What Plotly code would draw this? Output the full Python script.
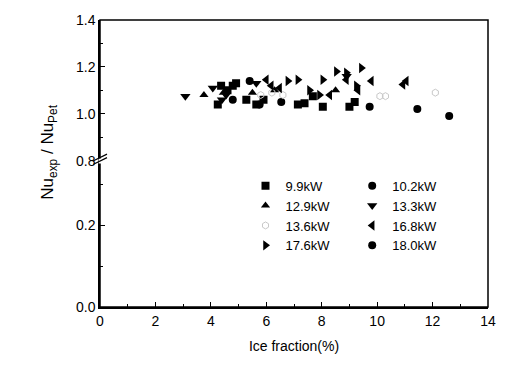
import plotly.graph_objects as go

# ---- data (ice fraction %, Nu_exp/Nu_Pet) ----
x_99 = [4.25, 4.37, 4.6, 4.79, 4.91, 5.28, 5.64, 5.9, 7.14, 7.38, 7.68, 8.04, 9.0, 9.19]
y_99 = [1.04, 1.12, 1.10, 1.12, 1.13, 1.06, 1.04, 1.06, 1.04, 1.045, 1.075, 1.03, 1.03, 1.05]
x_102 = [4.79, 5.4, 5.76, 6.54, 9.73]
y_102 = [1.06, 1.14, 1.04, 1.05, 1.03]
x_129 = [3.75, 4.45, 5.5, 6.3, 8.5]
y_129 = [1.08, 1.09, 1.09, 1.10, 1.10]
x_133 = [3.08, 4.07, 4.4, 4.55, 5.64, 8.9]
y_133 = [1.075, 1.11, 1.06, 1.08, 1.13, 1.16]
x_136 = [5.8, 6.2, 6.6, 10.1, 10.3, 12.1]
y_136 = [1.08, 1.09, 1.08, 1.075, 1.075, 1.09]
x_168 = [6.0, 6.18, 6.48, 8.29, 8.89, 9.31, 9.79, 10.93, 11.05]
y_168 = [1.145, 1.12, 1.11, 1.08, 1.145, 1.10, 1.14, 1.125, 1.14]
x_176 = [6.78, 7.14, 7.56, 7.92, 8.04, 8.53, 8.89, 9.25, 9.43]
y_176 = [1.14, 1.145, 1.10, 1.08, 1.145, 1.18, 1.175, 1.12, 1.195]
x_180 = [11.45, 12.6]
y_180 = [1.02, 0.99]

x_ticks = [0, 2, 4, 6, 8, 10, 12, 14]
y_low_ticks = [0.0, 0.2]
y_up_ticks = [0.8, 1.0, 1.2, 1.4]

FONT = "Liberation Sans, Arial, sans-serif"

series = [
    ("9.9kW", x_99, y_99, "square", "black", 8, "legend"),
    ("10.2kW", x_102, y_102, "circle", "black", 8, "legend2"),
    ("12.9kW", x_129, y_129, "triangle-up", "black", 8, "legend"),
    ("13.3kW", x_133, y_133, "triangle-down", "black", 9, "legend2"),
    ("13.6kW", x_136, y_136, "hexagon-open", "#c8c8c8", 7, "legend"),
    ("16.8kW", x_168, y_168, "triangle-left", "black", 9, "legend2"),
    ("17.6kW", x_176, y_176, "triangle-right", "black", 9, "legend"),
    ("18.0kW", x_180, y_180, "circle", "black", 8, "legend2"),
]

fig = go.Figure()
# dummy to keep lower axis alive
fig.add_trace(go.Scatter(x=[], y=[], xaxis="x", yaxis="y", showlegend=False))
for name, xs, ys, sym, col, sz, lg in series:
    fig.add_trace(go.Scatter(
        x=xs, y=ys, mode="markers", name=name, xaxis="x", yaxis="y2",
        marker=dict(symbol=sym, color=col, size=sz,
                    line=dict(width=0 if "open" not in sym else 1, color=col)),
        legend=lg,
    ))

split = 0.51
axis_common = dict(showline=True, linecolor="black", linewidth=1.5, ticks="inside",
                   tickcolor="black", ticklen=5, tickwidth=1.2, showgrid=False, zeroline=False,
                   tickfont=dict(family=FONT, size=14, color="black"))

fig.update_layout(
    width=509, height=369,
    margin=dict(l=100, r=21, t=15, b=62),
    paper_bgcolor="white", plot_bgcolor="white",
    font=dict(family=FONT, color="black"),
    xaxis=dict(range=[0, 14], tickvals=x_ticks, anchor="y",
               minor=dict(dtick=1, ticks="inside", ticklen=3, tickcolor="black"),
               title=dict(text="Ice fraction(%)", font=dict(family=FONT, size=14), standoff=14),
               **axis_common),
    yaxis=dict(domain=[0, split], range=[0, 0.359], tickvals=y_low_ticks, tickformat=".1f",
               anchor="x", minor=dict(dtick=0.1, ticks="inside", ticklen=3, tickcolor="black"),
               **axis_common),
    yaxis2=dict(domain=[split, 1], range=[0.8, 1.4], tickvals=y_up_ticks, tickformat=".1f",
                anchor="x", minor=dict(dtick=0.1, ticks="inside", ticklen=3, tickcolor="black"),
                **axis_common),
    legend=dict(x=0.375, y=0.475, xanchor="left", yanchor="top", bgcolor="rgba(0,0,0,0)",
                font=dict(family=FONT, size=13), tracegroupgap=0, itemsizing="trace"),
    legend2=dict(x=0.65, y=0.475, xanchor="left", yanchor="top", bgcolor="rgba(0,0,0,0)",
                 font=dict(family=FONT, size=13), tracegroupgap=0, itemsizing="trace"),
    showlegend=True,
)

# border box
fig.add_shape(type="rect", xref="paper", yref="paper", x0=0, y0=0, x1=1, y1=1,
              line=dict(color="black", width=1.5), fillcolor="rgba(0,0,0,0)")

# axis break marks "//"
W, H = 388.0, 292.0
def px(xp):
    return (xp - 100) / W
def py(yp):
    return (307 - yp) / H
fig.add_shape(type="line", xref="paper", yref="paper", x0=px(100), x1=px(100), y0=py(161), y1=py(156),
              line=dict(color="white", width=3))
for dy in (0, 3.5):
    fig.add_shape(type="line", xref="paper", yref="paper",
                  x0=px(93), y0=py(162 - dy), x1=px(107), y1=py(155 - dy),
                  line=dict(color="black", width=1.2))

# y title
fig.add_annotation(text="Nu<sub>exp</sub> / Nu<sub>Pet</sub>", xref="paper", yref="paper",
                   x=px(36), y=py(150), textangle=-90, showarrow=False,
                   font=dict(family=FONT, size=17, color="black"))

fig.write_html("out.html", config={"displayModeBar": False},
               post_script="document.body.style.margin='0';")
